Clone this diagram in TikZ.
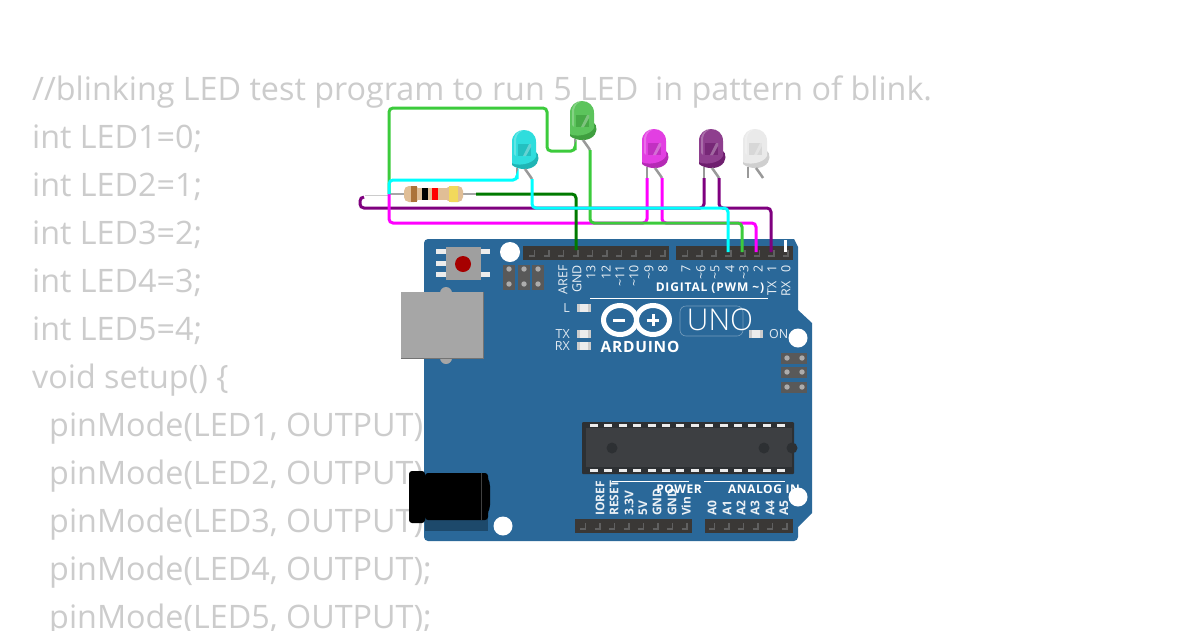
\documentclass[tikz,border=0pt]{standalone}
\usepackage{fontspec}
\setmainfont{Open Sans}
\newfontfamily\thinfont{Open Sans Light}
\usetikzlibrary{positioning}
\definecolor{boardblue}{HTML}{2A6899}
\definecolor{headerdark}{HTML}{3A3836}
\definecolor{chipdark}{HTML}{3D3F42}
\definecolor{chipedge}{HTML}{2D3033}
\definecolor{codegray}{HTML}{CCCCCC}
\definecolor{restan}{HTML}{E0BE96}
\definecolor{resyellow}{HTML}{F2D95C}
\definecolor{ledcyan}{HTML}{2FDDDD}
\definecolor{ledcyand}{HTML}{1FB5B5}
\definecolor{ledgreen}{HTML}{5CC45C}
\definecolor{ledgreend}{HTML}{3F9F3F}
\definecolor{ledmag}{HTML}{E23FE2}
\definecolor{ledmagd}{HTML}{B52AB5}
\definecolor{ledpur}{HTML}{8E3F8E}
\definecolor{ledpurd}{HTML}{6E1F6E}
\definecolor{ledwhite}{HTML}{EAEAEA}
\definecolor{ledwhited}{HTML}{CFCFCF}
\definecolor{wirecyan}{HTML}{00FFFF}
\definecolor{wiregreen}{HTML}{3CCB3C}
\definecolor{wiredark}{HTML}{007A00}
\definecolor{wiremag}{HTML}{FF00FF}
\definecolor{wirepur}{HTML}{7F007F}
\tikzset{
pics/ledbulb/.style n args={2}{code={
    \fill[#2] (-12,24) -- (-12,35) .. controls (-6,40) and (4,40) .. (9,37)
        .. controls (16,33) and (16,24) .. (11,21) -- cycle;
    \fill[#1] (-12,33) -- (-12,12) .. controls (-12,-4) and (12,-4) .. (12,12)
        -- (12,27) .. controls (8,35) and (-8,36) .. (-12,33) -- cycle;
    \fill[white, opacity=0.25] (-10,24) -- (-10,11) .. controls (-10,3) and (-5,1) .. (-2,1)
        .. controls (-7,3) and (-8,7) .. (-8,12) -- (-8,26) -- cycle;
    \fill[#2, opacity=0.7] (-6,14) rectangle (7,26);
    \fill[white, opacity=0.3] (-1,26) -- (5,14) -- (7,14) -- (7,17) -- (2,26) -- cycle;
    \draw[legline] (-7,38) -- (-7,49);
    \draw[legline] (1,39) -- (6,46) -- (8,49);
    \coordinate (-l) at (-7,49);
    \coordinate (-r) at (8,49);
}},
x=1pt, y=-1pt
}
\begin{document}
\begin{tikzpicture}[
font=\fontsize{11}{11}\selectfont,
legline/.style={draw=gray!80, line width=2.5pt},
wire/.style={line width=3pt, rounded corners=4pt},
codeline/.style={anchor=base west, text=codegray, inner sep=0pt, font=\fontsize{32.3}{32.3}\selectfont},
pinlabel/.style={text=white!90!boardblue, inner sep=0pt, rotate=90, font=\fontsize{12.5}{12.5}\selectfont},
boldlabel/.style={text=white, inner sep=0pt, font=\bfseries\fontsize{12}{12}\selectfont\addfontfeature{LetterSpace=4.7}},
smalllabel/.style={text=white!85!boardblue, inner sep=0pt, font=\fontsize{12.5}{12.5}\selectfont},
hole/.style={fill=white, draw=none},
smd/.style={fill=white!85!gray, draw=none},
pinmark/.style={draw=gray!75!black, line width=1.8pt}
]
    \clip (0,0) rectangle (1200,630);
    \fill[white] (0,0) rectangle (1200,630);

    % Code behind the board
    \node[codeline] (code0) at (32,100) {//blinking LED test program to run 5 LED\ \ in pattern of blink.};
    \foreach \i/\t/\y in {1/0/148, 2/1/196, 3/2/244, 4/3/292, 5/4/340}
        \node[codeline] (code\i) at (32,\y) {int LED\i=\t;};
    \node[codeline] (code6) at (32,388) {void setup() \{};
    \foreach \i/\y in {1/436, 2/484, 3/532, 4/580, 5/628}
        \node[codeline] (pinmode\i) at (49,\y) {pinMode(LED\i, OUTPUT);};

    % Board
    \fill[boardblue, rounded corners=4pt] (424,239) [sharp corners] -- (794,239)
        -- (798,247) -- (798,310) -- (812,323) -- (812,513) -- (798,527) [rounded corners=4pt] -- (798,541) -- (424,541) -- cycle;

    \fill[hole] (510,252) circle (10);
    \fill[hole] (798,338) circle (9.5);
    \fill[hole] (503,526) circle (9.5);
    \fill[hole] (798,497) circle (9.5);

    % Headers
    \fill[headerdark] (523,246) rectangle (669,260);
    \fill[headerdark] (676,246) rectangle (793,260);
    \fill[headerdark] (575,519) rectangle (692,533);
    \fill[headerdark] (705,519) rectangle (793,533);
    \foreach \x in {0,...,9}
        \draw[pinmark] (529+14.5*\x,256) -- (534.5+14.5*\x,256) -- (534.5+14.5*\x,250);
    \foreach \x in {0,...,7}
        \draw[pinmark] (682+14.4*\x,256) -- (687.5+14.4*\x,256) -- (687.5+14.4*\x,250);
    \foreach \x in {0,...,7}
        \draw[pinmark] (580+14.5*\x,529) -- (585.5+14.5*\x,529) -- (585.5+14.5*\x,523);
    \foreach \x in {0,...,5}
        \draw[pinmark] (709+14.5*\x,529) -- (714.5+14.5*\x,529) -- (714.5+14.5*\x,523);

    % Reset button and ICSP
    \fill[white!85!gray] (436,249) rectangle (490,254);
    \fill[white!85!gray] (436,261) rectangle (446,266);
    \fill[white!85!gray] (436,272) rectangle (490,277);
    \fill[gray!75] (446,247) rectangle (481,280);
    \fill[red!65!black] (463,264) circle (8);
    \foreach \x in {509,524,538} {
        \fill[gray!70!black] (\x-6,265) rectangle (\x+6,290);
        \fill[gray!65] (\x,269) circle (2.7);
        \fill[gray!65] (\x,284) circle (2.7);
    }
    \foreach \y in {358,372,387} {
        \fill[gray!70!black] (781,\y-5.5) rectangle (807,\y+5.5);
        \fill[gray!65] (787,\y) circle (2.7);
        \fill[gray!65] (802,\y) circle (2.7);
    }

    % USB
    \fill[gray!70] (446,293) circle (6);
    \fill[gray!70] (446,358) circle (6);
    \fill[gray!110] (401,292) rectangle (484,359);
    \fill[gray!70] (401,292) rectangle (482.5,357.5);

    % Power jack
    \fill[boardblue!70!black] (425,510) rectangle (488,531);
    \fill[black, rounded corners=3pt] (425,473) -- (488,473) -- (488,480) -- (490,483) -- (490,508) -- (488,511) -- (488,520) -- (425,520) -- cycle;
    \fill[black, rounded corners=3pt] (409,471) rectangle (425,523);
    \draw[gray!50!black, line width=0.5pt] (481,473) -- (481,520);

    % Chip
    \fill[chipedge, rounded corners=1pt] (582,422) rectangle (794,474);
    \fill[chipdark] (586,428) rectangle (792,467);
    \foreach \x in {0,...,13} {
        \fill[white!85!gray] (590+14.4*\x,424) rectangle (598+14.4*\x,427);
        \fill[white!85!gray] (590+14.4*\x,469) rectangle (598+14.4*\x,472);
    }
    \fill[chipedge] (612,448) circle (5.5);
    \fill[chipedge] (764,448) circle (5.5);
    \fill[chipedge] (792,448) circle (5.5);

    % Silkscreen
    \draw[white, line width=1pt] (590,298) -- (768,298);
    \draw[white, line width=1pt] (612,481) -- (689,481);
    \draw[white, line width=1pt] (704,481) -- (785,481);
    \foreach \x/\t in {563/AREF, 577/GND, 591/13, 606/12, 620/\textasciitilde 11, 634/\textasciitilde 10, 649/\textasciitilde 9, 663/8,
        686/7, 701/\textasciitilde 6, 715/\textasciitilde 5, 730/4, 744/\textasciitilde 3, 758/2, 772/1, 786/0}
        \node[pinlabel, anchor=east] (top\x) at (\x,265) {\t};
    \node[pinlabel, anchor=east] (txpin) at (772,281) {TX};
    \node[pinlabel, anchor=east] (rxpin) at (786,281) {RX};
    \foreach \x/\t in {600/IOREF, 614/RESET, 629/3.3V, 643/5V, 657/GND, 672/GND, 686/Vin, 712/A0, 727/A1, 741/A2, 755/A3, 770/A4, 784/A5}
        \node[pinlabel, anchor=west, font=\bfseries\fontsize{12}{12}\selectfont] (bot\x) at (\x,516) {\t};
    \node[boldlabel, font=\bfseries\fontsize{12}{12}\selectfont\addfontfeature{LetterSpace=7}] (digital) at (710,288) {DIGITAL (PWM \textasciitilde)};
    \node[boldlabel] (power) at (679,489) {POWER};
    \node[boldlabel] (analog) at (764,489) {ANALOG IN};

    \foreach \x/\y in {577/304, 577/330, 577/342, 749/330} {
        \fill[smd] (\x,\y) rectangle (\x+14,\y+8);
        \fill[gray!40] (\x,\y) rectangle (\x+3,\y+8);
        \fill[gray!40] (\x+11,\y) rectangle (\x+14,\y+8);
    }
    \node[smalllabel, anchor=east] (ledl) at (570,308) {L};
    \node[smalllabel, anchor=east] (ledtx) at (570,334) {TX};
    \node[smalllabel, anchor=east] (ledrx) at (570,346) {RX};
    \node[smalllabel, anchor=west] (ledon) at (769,334) {ON};

    % Logo
    \draw[white, line width=5pt] (620,320) ellipse (16.5 and 14.5);
    \draw[white, line width=5pt] (653,320) ellipse (16.5 and 14.5);
    \fill[white] (613,318.5) rectangle (625,321.5);
    \fill[white] (647,318.5) rectangle (659,321.5);
    \fill[white] (651.5,314) rectangle (654.5,326);
    \node[boldlabel, font=\bfseries\fontsize{15.5}{15.5}\selectfont\addfontfeature{LetterSpace=5}] (arduino) at (640,347) {ARDUINO};
    \draw[white!35!boardblue, line width=0.6pt, rounded corners=6pt] (680,306) rectangle (743,336);
    \node[text=white, inner sep=0pt, font=\thinfont\fontsize{30}{30}\selectfont] (uno) at (720,320) {UNO};

    % Resistor
    \draw[gray!70, line width=2.5pt] (390,194) -- (476,194);
    \fill[restan] (412,188) rectangle (452,200);
    \fill[restan, rounded corners=5pt] (404,186) rectangle (419,202);
    \fill[restan, rounded corners=5pt] (446,186) rectangle (463,202);
    \fill[brown!90!black] (411,186) rectangle (417,202);
    \fill[black] (422,188) rectangle (428,200);
    \fill[red] (432,188) rectangle (438,200);
    \fill[resyellow] (449,186) rectangle (458,202);

    % LEDs
    \pic (cyan) at (524,130) {ledbulb={ledcyan}{ledcyand}};
    \pic (green) at (582,101) {ledbulb={ledgreen}{ledgreend}};
    \pic (magenta) at (654,129) {ledbulb={ledmag}{ledmagd}};
    \pic (purple) at (711,129) {ledbulb={ledpur}{ledpurd}};
    \pic (whiteled) at (755,129) {ledbulb={ledwhite}{ledwhited}};

    \draw
    (576,250) coordinate (pingnd)
    (728,252) coordinate (pinfour)
    (742,252) coordinate (pinthree)
    (756,252) coordinate (pintwo)
    (771,252) coordinate (pinone)
    (785,252) coordinate (pinzero)
    (389,194) coordinate (resleft)
    (476,194) coordinate (resright)
    (365,194) coordinate (whiteend);

    % Wires
    \draw[gray!40, line width=3pt] (whiteend) -- (resleft);
    \draw[white, line width=2pt] (whiteend) -- (resleft);
    \draw[white, line width=3pt] (785,240) -- (pinzero);
    \draw[wire, wirepur] (purple-l) -- (704,208) -- (360,208) -- (360,197) -- (364,197);
    \draw[wire, wirepur] (purple-r) -- (719,208) -- (771,208) -- (pinone);
    \draw[wire, wiremag] (resleft) -- (389,223) -- (647,223) -- (magenta-l);
    \draw[wire, wiremag] (magenta-r) -- (662,223) -- (756,223) -- (pintwo);
    \draw[wire, wiregreen] (resleft) -- (389,108) -- (547,108) -- (547,151) -- (575,151) -- (green-l);
    \draw[wire, wiregreen] (green-r) -- (590,223) -- (742,223) -- (pinthree);
    \draw[wire, wiredark] (resright) -- (576,194) -- (pingnd);
    \draw[wire, wirecyan] (resleft) -- (389,180) -- (517,180) -- (cyan-l);
    \draw[wire, wirecyan] (cyan-r) -- (532,208) -- (728,208) -- (pinfour);

\end{tikzpicture}
\end{document}
